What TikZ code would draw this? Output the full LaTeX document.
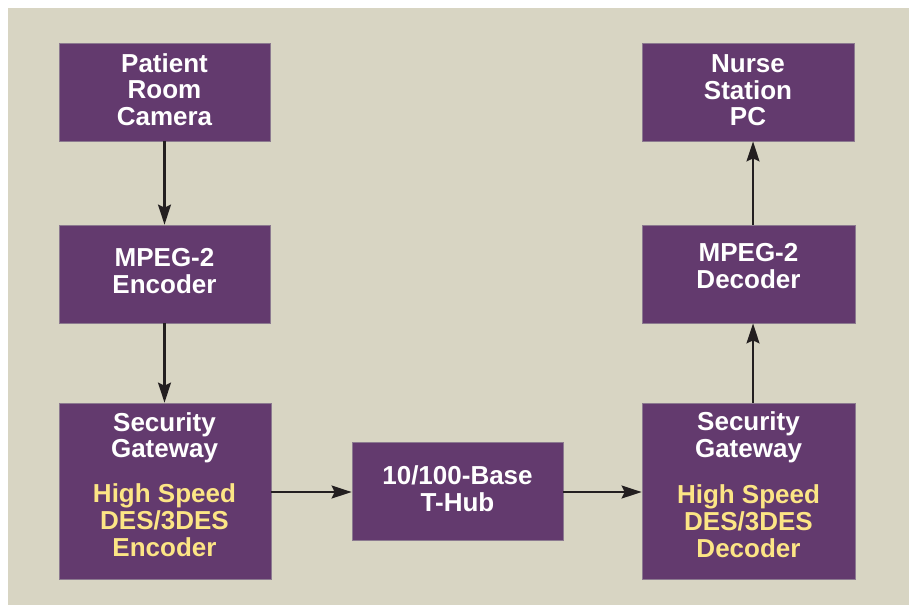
\documentclass[tikz,border=0pt]{standalone}
\usepackage{fontspec}
\setmainfont{Liberation Sans}
\usetikzlibrary{arrows.meta}
\definecolor{bgbeige}{HTML}{D8D5C3}
\definecolor{boxpurple}{HTML}{633A6E}
\definecolor{boxedge}{HTML}{8C7A90}
\definecolor{txtyellow}{HTML}{FCE585}
\definecolor{arrowblack}{HTML}{231F20}
\tikzset{
  blockbox/.style={draw=boxedge, line width=0.8pt, fill=boxpurple, rectangle, inner sep=0pt},
  wlabel/.style={anchor=base, inner sep=0pt, text=white, font=\fontsize{26}{26}\selectfont\bfseries},
  ylabel/.style={anchor=base, inner sep=0pt, text=txtyellow, font=\fontsize{26}{26}\selectfont\bfseries},
  flow/.style={draw=arrowblack, line width=2.2pt, -{Stealth[length=20pt,width=13pt,inset=3pt]}}
}
\begin{document}
\begin{tikzpicture}[x=1pt,y=-1pt]
\useasboundingbox (0,0) rectangle (909,605);
\fill[bgbeige] (8,8) rectangle (909,605);
% boxes
\node[blockbox, minimum width=211pt, minimum height=98pt] (cam) at (164.5,92) {};
\node[blockbox, minimum width=211pt, minimum height=98pt] (enc) at (164.5,274) {};
\node[blockbox, minimum width=212pt, minimum height=176pt] (sgl) at (165,491) {};
\node[blockbox, minimum width=211pt, minimum height=98pt] (hub) at (457.5,491) {};
\node[blockbox, minimum width=213pt, minimum height=176pt] (sgr) at (748.5,491) {};
\node[blockbox, minimum width=213pt, minimum height=98pt] (dec) at (748.5,274) {};
\node[blockbox, minimum width=212pt, minimum height=98pt] (pc) at (748,92) {};
% labels
\node[wlabel] (cam1) at (164.5,72.3) {Patient};
\node[wlabel] (cam2) at (164.5,98.8) {Room};
\node[wlabel] (cam3) at (164.5,125.3) {Camera};
\node[wlabel] (enc1) at (164.5,266) {MPEG-2};
\node[wlabel] (enc2) at (164.5,293) {Encoder};
\node[wlabel] (sgl1) at (164.5,431) {Security};
\node[wlabel] (sgl2) at (164.5,457) {Gateway};
\node[ylabel] (sgl3) at (164.5,502.5) {High Speed};
\node[ylabel] (sgl4) at (164.5,529.5) {DES/3DES};
\node[ylabel] (sgl5) at (164.5,556.5) {Encoder};
\node[wlabel] (hub1) at (457.5,484.3) {10/100-Base};
\node[wlabel] (hub2) at (457.5,511.5) {T-Hub};
\node[wlabel] (sgr1) at (748.5,430) {Security};
\node[wlabel] (sgr2) at (748.5,457) {Gateway};
\node[ylabel] (sgr3) at (748.5,503) {High Speed};
\node[ylabel] (sgr4) at (748.5,530.5) {DES/3DES};
\node[ylabel] (sgr5) at (748.5,557.3) {Decoder};
\node[wlabel] (dec1) at (748.5,261.7) {MPEG-2};
\node[wlabel] (dec2) at (748.5,288.3) {Decoder};
\node[wlabel] (pc1) at (748,72.3) {Nurse};
\node[wlabel] (pc2) at (748,99.3) {Station};
\node[wlabel] (pc3) at (748,125.7) {PC};
% connectors
\coordinate (rx) at (753,0);
\draw[flow] (cam.south) -- (cam.south |- enc.north);
\draw[flow] (enc.south) -- (enc.south |- sgl.north);
\draw[flow] ([yshift=-1pt]sgl.east) -- ([yshift=-1pt]hub.west);
\draw[flow] ([yshift=-1pt]hub.east) -- ([yshift=-1pt]sgr.west);
\draw[flow] (rx |- sgr.north) -- (rx |- dec.south);
\draw[flow] (rx |- dec.north) -- (rx |- pc.south);
\end{tikzpicture}
\end{document}
